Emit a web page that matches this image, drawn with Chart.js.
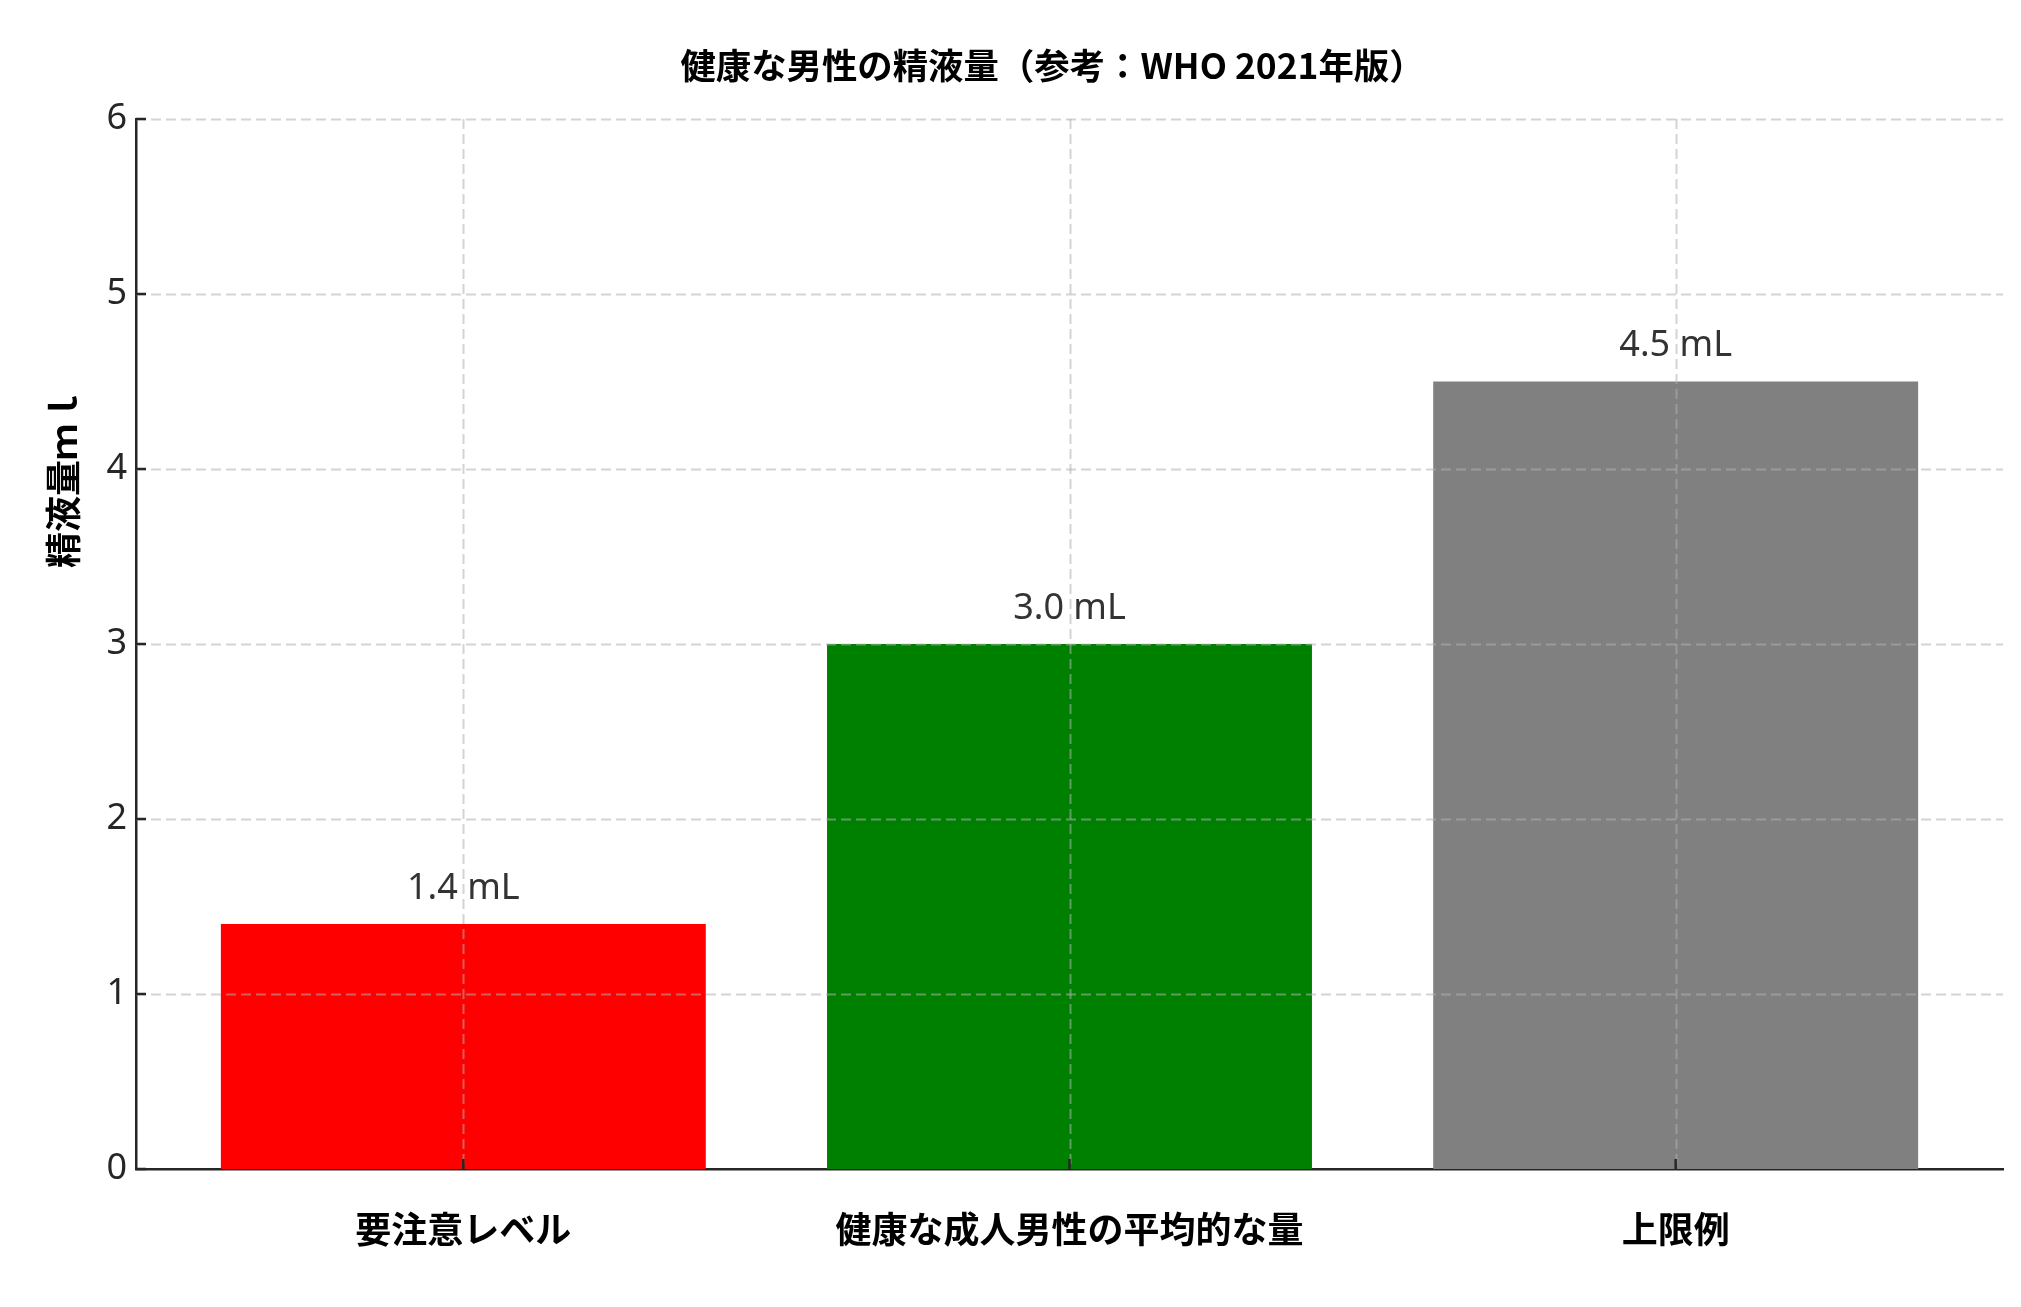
<!DOCTYPE html>
<html><head><meta charset="utf-8">
<script src="https://cdn.jsdelivr.net/npm/chart.js@4/dist/chart.umd.min.js"></script>
<style>html,body{margin:0;padding:0;background:#fff}#wrap{width:2021px;height:1307px}</style>
</head><body><div id="wrap"><canvas id="c" width="2021" height="1307"></canvas></div>
<script>
const categories = ['要注意レベル', '健康な成人男性の平均的な量', '上限例'];
const values = [1.4, 3.0, 4.5];
const barColors = ['#ff0000', '#008000', '#808080'];
const valueLabels = ['1.4 mL', '3.0 mL', '4.5 mL'];
const yTicks = [0, 1, 2, 3, 4, 5, 6];
const chartTitle = '健康な男性の精液量（参考：WHO 2021年版）';
const yTitle = '精液量ｍｌ';

const CJK = "'Noto Sans CJK JP', 'Noto Sans', sans-serif";
const LAT = "'Noto Sans', 'Noto Sans CJK JP', sans-serif";

const overlay = {
  id: 'overlay',
  afterDatasetsDraw(chart) {
    const ctx = chart.ctx, x = chart.scales.x, y = chart.scales.y, a = chart.chartArea;
    ctx.save();
    // grid lines drawn over the bars
    ctx.strokeStyle = 'rgba(176,176,176,0.55)';
    ctx.lineWidth = 2;
    ctx.setLineDash([10, 5]);
    yTicks.forEach(v => {
      if (v === 0) return;
      const py = Math.round(y.getPixelForValue(v)) + 0.5;
      ctx.beginPath(); ctx.moveTo(a.left, py); ctx.lineTo(a.right, py); ctx.stroke();
    });
    categories.forEach((c, i) => {
      const px = Math.round(x.getPixelForValue(i)) + 0.5;
      ctx.beginPath(); ctx.moveTo(px, a.top); ctx.lineTo(px, a.bottom); ctx.stroke();
    });
    ctx.setLineDash([]);
    // inward tick marks
    ctx.strokeStyle = '#262626';
    ctx.lineWidth = 2.5;
    yTicks.forEach(v => {
      const py = y.getPixelForValue(v);
      ctx.beginPath(); ctx.moveTo(a.left, py); ctx.lineTo(a.left + 10, py); ctx.stroke();
    });
    categories.forEach((c, i) => {
      const px = x.getPixelForValue(i);
      ctx.beginPath(); ctx.moveTo(px, a.bottom); ctx.lineTo(px, a.bottom - 10); ctx.stroke();
    });
    // value labels
    ctx.fillStyle = '#333333';
    ctx.font = '36px ' + LAT;
    ctx.textAlign = 'center';
    ctx.textBaseline = 'alphabetic';
    values.forEach((v, i) => {
      ctx.fillText(valueLabels[i], x.getPixelForValue(i), y.getPixelForValue(v + 0.1) - 8);
    });
    // title
    ctx.fillStyle = '#000000';
    ctx.font = 'bold 35.4px ' + CJK;
    ctx.textBaseline = 'middle';
    ctx.fillText(chartTitle, (a.left + a.right) / 2 - 17, 66);
    // y axis title
    ctx.font = 'bold 36px ' + CJK;
    ctx.save();
    ctx.translate(63, 478);
    ctx.rotate(-Math.PI / 2);
    ctx.fillText(yTitle, 0, 0);
    ctx.restore();
    ctx.restore();
  }
};

new Chart(document.getElementById('c'), {
  type: 'bar',
  data: {
    datasets: [{
      data: values.map((v, i) => ({ x: i, y: v })),
      backgroundColor: barColors,
      borderWidth: 0,
      barPercentage: 0.8,
      categoryPercentage: 1.0
    }]
  },
  options: {
    responsive: false,
    animation: false,
    devicePixelRatio: 1,
    layout: { padding: { top: 119, right: 18, left: 0, bottom: 0 } },
    plugins: { legend: { display: false }, tooltip: { enabled: false }, title: { display: false } },
    scales: {
      x: {
        type: 'linear',
        min: -0.54, max: 2.54,
        offset: false,
        afterBuildTicks: s => { s.ticks = categories.map((c, i) => ({ value: i })); },
        afterFit: s => { s.height = 138; },
        ticks: {
          autoSkip: false, maxRotation: 0,
          callback: v => categories[v] ?? '',
          font: { family: CJK, size: 36, weight: 'bold' },
          color: '#000000',
          padding: 39
        },
        grid: { display: false, drawTicks: false, offset: false },
        border: { display: true, color: '#262626', width: 2.5 }
      },
      y: {
        min: 0, max: 6,
        afterBuildTicks: s => { s.ticks = yTicks.map(v => ({ value: v })); },
        afterFit: s => { s.width = 136; },
        ticks: {
          font: { family: LAT, size: 36 },
          color: '#262626',
          padding: 9
        },
        grid: { display: false, drawTicks: false },
        border: { display: true, color: '#262626', width: 2.5 }
      }
    }
  },
  plugins: [overlay]
});
</script>
</body></html>
